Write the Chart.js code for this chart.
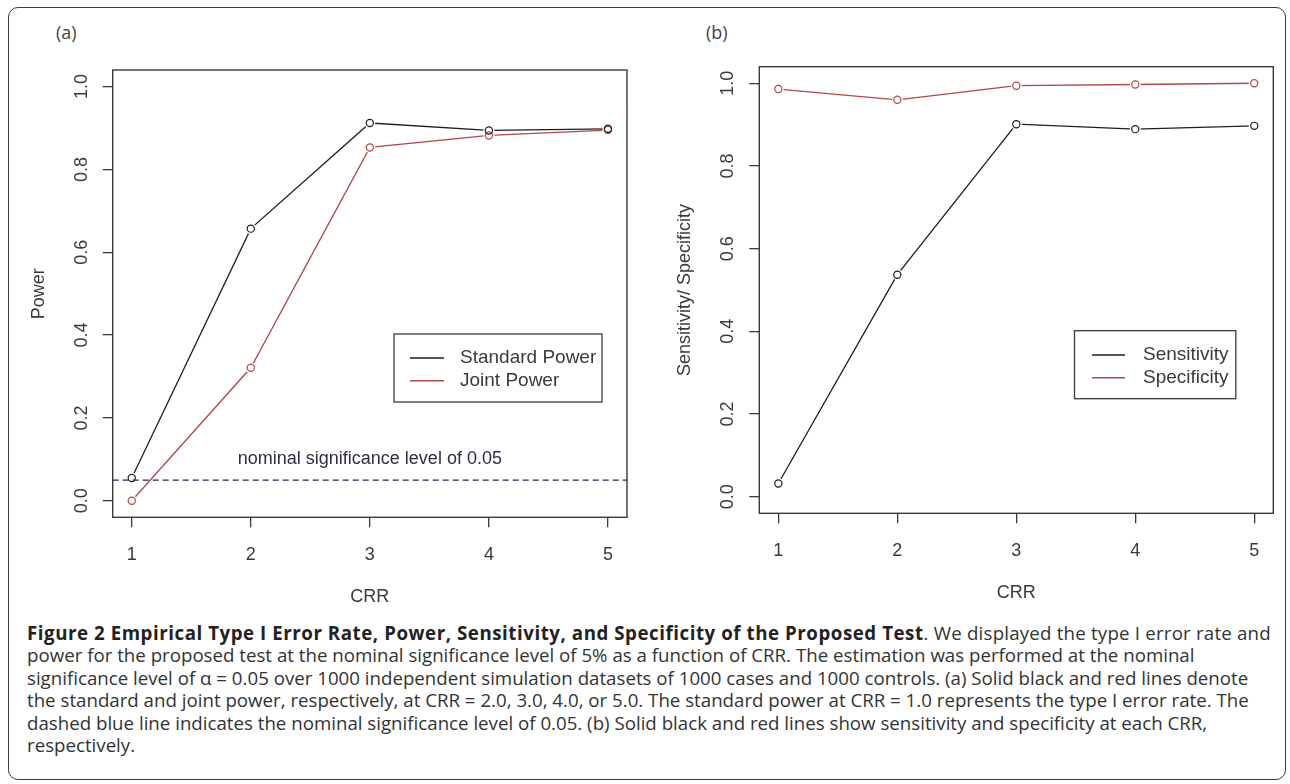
<!DOCTYPE html>
<html>
<head>
<meta charset="utf-8">
<script src="https://cdn.jsdelivr.net/npm/chart.js@4.4.1/dist/chart.umd.min.js"></script>
<style>
  body { margin: 0; background: #fff; width: 1290px; height: 784px; position: relative; overflow: hidden; font-family: "Open Sans"; }
  #frame { position: absolute; left: 8px; top: 7px; width: 1278px; height: 773px; border: 1.5px solid #3c3c3c; border-radius: 10px; box-sizing: border-box; }
  canvas { position: absolute; top: 0; }
  .tag { position: absolute; top: 20px; font: 18px "Open Sans"; color: #444; }
  #caption { position: absolute; left: 27px; top: 622px; font-size: 18.7px; line-height: 22.4px; color: #333; white-space: nowrap; }
  #caption b { color: #222; letter-spacing: 0.55px; }
  #caption .l1 { letter-spacing: 0.2px; }
</style>
</head>
<body>
<div id="frame"></div>
<div class="tag" style="left:56px">(a)</div>
<div class="tag" style="left:706px">(b)</div>
<canvas id="chartA" width="640" height="610" style="left:0"></canvas>
<canvas id="chartB" width="650" height="610" style="left:640px"></canvas>
<div id="caption"><b>Figure 2 Empirical Type I Error Rate, Power, Sensitivity, and Specificity of the Proposed Test</b><span class="l1">. We displayed the type I error rate and</span><br>power for the proposed test at the nominal significance level of 5% as a function of CRR. The estimation was performed at the nominal<br>significance level of α = 0.05 over 1000 independent simulation datasets of 1000 cases and 1000 controls. (a) Solid black and red lines denote<br>the standard and joint power, respectively, at CRR = 2.0, 3.0, 4.0, or 5.0. The standard power at CRR = 1.0 represents the type I error rate. The<br>dashed blue line indicates the nominal significance level of 0.05. (b) Solid black and red lines show sensitivity and specificity at each CRR,<br>respectively.</div>
<script>
// values
const crr = [1, 2, 3, 4, 5];
const xTicks = [1, 2, 3, 4, 5];
const yTicks = [0, 0.2, 0.4, 0.6, 0.8, 1.0];
const standardPower = [0.055, 0.657, 0.912, 0.894, 0.898];
const jointPower = [0.0, 0.321, 0.853, 0.882, 0.895];
const sensitivity = [0.032, 0.537, 0.901, 0.889, 0.897];
const specificity = [0.986, 0.960, 0.994, 0.997, 1.0];
const nominalLevel = 0.05;
const labelsA = ["Standard Power", "Joint Power"];
const labelsB = ["Sensitivity", "Specificity"];

const BLACK = "#1e1e1e";
const RED = "#b0474a";
const AXIS = "#3a3a3a";
const FONT = "Liberation Sans";

function pts(vals) {
  return crr.map((x, i) => ({ x: x, y: vals[i] }));
}

// R type="b": line with a gap round each open circle
function lineSets(series, colors) {
  const sets = [];
  series.forEach((vals, i) => {
    sets.push({
      data: pts(vals), borderColor: colors[i], borderWidth: 1.3, tension: 0,
      pointRadius: 5.5, pointHoverRadius: 5.5, pointBorderWidth: 0,
      pointBackgroundColor: "#fff", order: 2
    });
    sets.push({
      data: pts(vals), showLine: false, pointRadius: 3.6, pointHoverRadius: 3.6,
      pointBorderWidth: 1.2, pointBorderColor: colors[i],
      pointBackgroundColor: "rgba(0,0,0,0)", order: 0
    });
  });
  return sets;
}

const rPlot = {
  id: "rPlot",
  afterDatasetsDraw(chart, args, o) {
    if (!o.ref) return;
    const { ctx, chartArea: a, scales: { x, y } } = chart;
    const py = y.getPixelForValue(o.ref.y);
    ctx.save();
    ctx.strokeStyle = "#23264a";
    ctx.lineWidth = 1.3;
    ctx.setLineDash([6, 4]);
    ctx.beginPath();
    ctx.moveTo(a.left, py);
    ctx.lineTo(a.right, py);
    ctx.stroke();
    ctx.setLineDash([]);
    ctx.fillStyle = "#2b2e48";
    ctx.font = "18px \"" + FONT + "\"";
    ctx.textAlign = "center";
    ctx.textBaseline = "middle";
    ctx.fillText(o.ref.text, x.getPixelForValue(o.ref.tx), y.getPixelForValue(o.ref.ty));
    ctx.restore();
  },
  afterDraw(chart, args, o) {
    const { ctx, chartArea: a, scales: { y } } = chart;
    ctx.save();
    ctx.strokeStyle = AXIS;
    ctx.lineWidth = 1.4;
    ctx.strokeRect(a.left, a.top, a.right - a.left, a.bottom - a.top);

    // y tick labels, rotated like R's las=0
    ctx.fillStyle = AXIS;
    ctx.font = "18px \"" + FONT + "\"";
    ctx.textAlign = "center";
    ctx.textBaseline = "middle";
    y.ticks.forEach(t => {
      ctx.save();
      ctx.translate(o.labelX, y.getPixelForValue(t.value));
      ctx.rotate(-Math.PI / 2);
      ctx.fillText(t.value.toFixed(1), 0, 0);
      ctx.restore();
    });

    // legend box
    const L = o.legend;
    ctx.lineWidth = 1.3;
    ctx.strokeRect(L.x, L.y, L.w, L.h);
    ctx.font = "19px \"" + FONT + "\"";
    ctx.textAlign = "left";
    L.labels.forEach((lab, i) => {
      const ly = L.row0 + i * L.step;
      ctx.strokeStyle = L.colors[i];
      ctx.lineWidth = 1.6;
      ctx.beginPath();
      ctx.moveTo(L.lx0, ly);
      ctx.lineTo(L.lx1, ly);
      ctx.stroke();
      ctx.fillStyle = AXIS;
      ctx.fillText(lab, L.tx, ly);
    });
    ctx.restore();
  }
};

function makeConfig(series, labels, p) {
  return {
    type: "line",
    data: { datasets: lineSets(series, [BLACK, RED]) },
    options: {
      responsive: false,
      animation: false,
      devicePixelRatio: 1,
      layout: { padding: { top: p.top, right: p.right, left: 0, bottom: 0 } },
      plugins: {
        legend: { display: false },
        tooltip: { enabled: false },
        rPlot: {
          labelX: p.labelX,
          ref: p.ref,
          legend: Object.assign({ labels: labels, colors: [BLACK, RED] }, p.legend)
        }
      },
      scales: {
        x: {
          type: "linear", min: 0.84, max: 5.16,
          afterBuildTicks: s => { s.ticks = xTicks.map(v => ({ value: v })); },
          afterFit: s => { s.height = p.xh; },
          grid: { drawOnChartArea: false, tickLength: 10, color: AXIS, lineWidth: 1.3 },
          border: { display: false },
          ticks: { font: { family: FONT, size: 18 }, color: AXIS, padding: 17, maxRotation: 0, autoSkip: false },
          title: { display: true, text: "CRR", font: { family: FONT, size: 18 }, color: AXIS, padding: { top: 0, bottom: p.xtp } }
        },
        y: {
          type: "linear", min: -0.04, max: 1.04,
          afterBuildTicks: s => { s.ticks = yTicks.map(v => ({ value: v })); },
          afterFit: s => { s.width = p.yw; },
          grid: { drawOnChartArea: false, tickLength: 10, color: AXIS, lineWidth: 1.3 },
          border: { display: false },
          ticks: { display: false },
          title: { display: true, text: p.ytitle, font: { family: FONT, size: 18 }, color: AXIS, padding: { top: p.ytp, bottom: 0 } }
        }
      }
    },
    plugins: [rPlot]
  };
}

new Chart(document.getElementById("chartA"), makeConfig([standardPower, jointPower], labelsA, {
  top: 70, right: 13, yw: 112.7, xh: 92.7, xtp: 2.5, ytp: 28, labelX: 81.7, ytitle: "Power",
  ref: { y: nominalLevel, tx: 3, ty: 0.1, text: "nominal significance level of 0.05" },
  legend: { x: 394, y: 334, w: 208, h: 68, lx0: 410, lx1: 444, row0: 358, step: 22.7, tx: 460 }
}));

new Chart(document.getElementById("chartB"), makeConfig([sensitivity, specificity], labelsB, {
  top: 66.7, right: 16.7, yw: 119.3, xh: 96.7, xtp: 6, ytp: 34, labelX: 88.3, ytitle: "Sensitivity/ Specificity",
  ref: null,
  legend: { x: 434.5, y: 330.7, w: 161.3, h: 68, lx0: 452, lx1: 485, row0: 355, step: 22.7, tx: 503 }
}));
</script>
</body>
</html>
